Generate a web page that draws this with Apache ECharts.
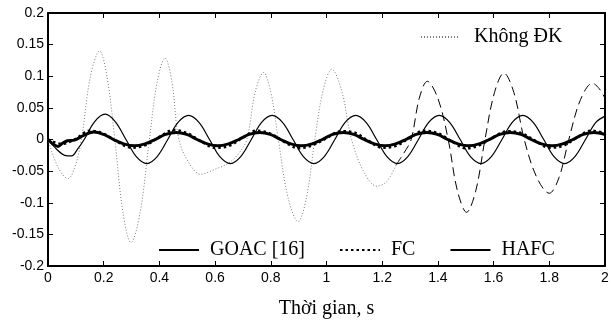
<!DOCTYPE html>
<html>
<head>
<meta charset="utf-8">
<style>
  html, body { margin: 0; padding: 0; background: #fff; }
  #main { width: 613px; height: 324px; }
</style>
<script src="https://cdn.jsdelivr.net/npm/echarts@6/dist/echarts.min.js"></script>
</head>
<body>
<div id="main"></div>
<script>
// tick labels
const xTicks = { min: 0, max: 2, step: 0.2 };
const yTicks = { min: -0.2, max: 0.2, step: 0.05 };

// [time s, value]
const khongDK = [
  [0, 0], [0.036, -0.044], [0.072, -0.062], [0.096, -0.044], [0.12, 0],
  [0.152, 0.099], [0.185, 0.14], [0.212, 0.099], [0.24, 0],
  [0.269, -0.115], [0.298, -0.163], [0.331, -0.115], [0.364, 0],
  [0.392, 0.091], [0.42, 0.129], [0.445, 0.091], [0.47, 0],
  [0.509, -0.039], [0.548, -0.055], [0.6, -0.047], [0.649, -0.037], [0.685, -0.022], [0.714, 0],
  [0.744, 0.075], [0.774, 0.106], [0.8, 0.075], [0.827, 0],
  [0.862, -0.092], [0.898, -0.13], [0.928, -0.092], [0.958, 0],
  [0.988, 0.078], [1.019, 0.111], [1.054, 0.078], [1.09, 0],
  [1.135, -0.052], [1.181, -0.074], [1.217, -0.066], [1.25, -0.04]
];

// dashed continuation, no legend entry
const khongDK2 = [
  [1.25, -0.04], [1.277, -0.022], [1.304, 0], [1.333, 0.065], [1.362, 0.092],
  [1.4, 0.065], [1.437, 0], [1.47, -0.081], [1.503, -0.115], [1.536, -0.081],
  [1.569, 0], [1.603, 0.074], [1.637, 0.105], [1.673, 0.074], [1.71, 0],
  [1.755, -0.06], [1.8, -0.085], [1.835, -0.06], [1.87, 0], [1.912, 0.063],
  [1.955, 0.089], [1.98, 0.08], [2, 0.065]
];

const goac = [
  [0, 0], [0.03, -0.015], [0.06, -0.025], [0.085, -0.026], [0.105, -0.016], [0.13, 0],
  [0.167, 0.028], [0.205, 0.04], [0.242, 0.028], [0.28, 0], [0.317, -0.027], [0.355, -0.038],
  [0.392, -0.027], [0.43, 0], [0.467, 0.027], [0.505, 0.038], [0.542, 0.027], [0.58, 0],
  [0.617, -0.027], [0.655, -0.038], [0.692, -0.027], [0.73, 0], [0.767, 0.027], [0.805, 0.038],
  [0.842, 0.027], [0.88, 0], [0.917, -0.027], [0.955, -0.038], [0.992, -0.027], [1.03, 0],
  [1.067, 0.027], [1.105, 0.038], [1.142, 0.027], [1.18, 0], [1.217, -0.027], [1.255, -0.038],
  [1.292, -0.027], [1.33, 0], [1.367, 0.027], [1.405, 0.038], [1.442, 0.027], [1.48, 0],
  [1.517, -0.027], [1.555, -0.038], [1.592, -0.027], [1.63, 0], [1.667, 0.027], [1.705, 0.038],
  [1.742, 0.027], [1.78, 0], [1.817, -0.027], [1.855, -0.038], [1.892, -0.027], [1.93, 0],
  [1.967, 0.027], [2, 0.037]
];

const fc = [
  [0, 0], [0.05, -0.007], [0.1, 0.001], [0.15, 0.014], [0.2, 0.009], [0.25, -0.004],
  [0.3, -0.013], [0.35, -0.009], [0.4, 0.004], [0.45, 0.015], [0.5, 0.01], [0.55, -0.003],
  [0.6, -0.013], [0.65, -0.01], [0.7, 0.003], [0.75, 0.014], [0.8, 0.009], [0.85, -0.004],
  [0.9, -0.014], [0.95, -0.009], [1.0, 0.002], [1.05, 0.013], [1.1, 0.011], [1.15, -0.002],
  [1.2, -0.013], [1.25, -0.01], [1.3, 0.003], [1.35, 0.014], [1.4, 0.01], [1.45, -0.003],
  [1.5, -0.014], [1.55, -0.009], [1.6, 0.004], [1.65, 0.013], [1.7, 0.01], [1.75, -0.002],
  [1.8, -0.013], [1.85, -0.01], [1.9, 0.003], [1.95, 0.014], [2.0, 0.01]
];

const hafc = [
  [0, 0], [0.018, -0.007], [0.036, -0.011], [0.052, -0.006], [0.07, -0.002], [0.095, -0.001],
  [0.13, 0.007], [0.165, 0.012], [0.2, 0.008], [0.235, 0], [0.272, -0.007], [0.31, -0.01],
  [0.348, -0.007], [0.385, 0], [0.422, 0.008], [0.46, 0.011], [0.498, 0.008], [0.535, 0],
  [0.572, -0.007], [0.61, -0.01], [0.648, -0.007], [0.685, 0], [0.722, 0.008], [0.76, 0.011],
  [0.798, 0.008], [0.835, 0], [0.872, -0.007], [0.91, -0.01], [0.948, -0.007], [0.985, 0],
  [1.022, 0.008], [1.06, 0.011], [1.098, 0.008], [1.135, 0], [1.172, -0.007], [1.21, -0.01],
  [1.248, -0.007], [1.285, 0], [1.322, 0.008], [1.36, 0.011], [1.398, 0.008], [1.435, 0],
  [1.472, -0.007], [1.51, -0.01], [1.548, -0.007], [1.585, 0], [1.622, 0.008], [1.66, 0.011],
  [1.698, 0.008], [1.735, 0], [1.772, -0.007], [1.81, -0.01], [1.848, -0.007], [1.885, 0],
  [1.922, 0.008], [1.96, 0.011], [2, 0.008]
];

const sans = "Liberation Sans";
const serif = "Liberation Serif";

const myChart = echarts.init(document.getElementById("main"));

function frameAxis(pos, t) {
  return {
    type: "value",
    position: pos,
    min: t.min,
    max: t.max,
    interval: t.step,
    axisLine: { show: true, onZero: false, lineStyle: { color: "#000", width: 2 } },
    axisTick: { show: true, inside: true, length: 5, lineStyle: { color: "#000", width: 1 } },
    axisLabel: { show: false },
    splitLine: { show: false }
  };
}

const xMain = frameAxis("bottom", xTicks);
xMain.axisLabel = { show: true, color: "#000", fontFamily: sans, fontSize: 14, margin: 5 };
xMain.name = "Thời gian, s";
xMain.nameLocation = "middle";
xMain.nameGap = 33;
xMain.nameTextStyle = { color: "#000", fontFamily: serif, fontSize: 20 };

const yMain = frameAxis("left", yTicks);
yMain.axisLabel = { show: true, color: "#000", fontFamily: sans, fontSize: 14, margin: 4 };

function line(name, data, color, width, type) {
  return {
    name: name,
    type: "line",
    data: data,
    xAxisIndex: 0,
    yAxisIndex: 0,
    symbol: "none",
    smooth: 0.35,
    silent: true,
    lineStyle: { color: color, width: width, type: type },
    itemStyle: { color: color }
  };
}

// legend: line sample only, hide the marker circle
const noMarker = { color: "rgba(0,0,0,0)", borderWidth: 0, opacity: 0 };

myChart.setOption({
  animation: false,
  grid: { left: 48, right: 8, top: 13, bottom: 46 },
  xAxis: [xMain, frameAxis("top", xTicks)],
  yAxis: [yMain, frameAxis("right", yTicks)],
  legend: [
    {
      data: ["Không ĐK"],
      left: 420,
      top: 27,
      padding: 0,
      itemWidth: 39,
      itemHeight: 20,
      selectedMode: false,
      itemStyle: noMarker,
      textStyle: { color: "#000", fontFamily: serif, fontSize: 20, padding: [0, 0, 0, 9] }
    },
    {
      data: ["GOAC [16]", "FC", "HAFC"],
      left: 158,
      top: 240,
      padding: 0,
      itemWidth: 40,
      itemHeight: 20,
      itemGap: 34,
      selectedMode: false,
      itemStyle: noMarker,
      textStyle: { color: "#000", fontFamily: serif, fontSize: 20, padding: [0, 0, 0, 6] }
    }
  ],
  series: [
    line("Không ĐK", khongDK, "#7a7a7a", 1, [1, 2]),
    line("Không ĐK (tiếp)", khongDK2, "#000", 1, [9, 5]),
    line("GOAC [16]", goac, "#000", 1.2, "solid"),
    line("HAFC", hafc, "#000", 3, "solid"),
    line("FC", fc, "#000", 2.5, [2.5, 3])
  ]
});
</script>
</body>
</html>
